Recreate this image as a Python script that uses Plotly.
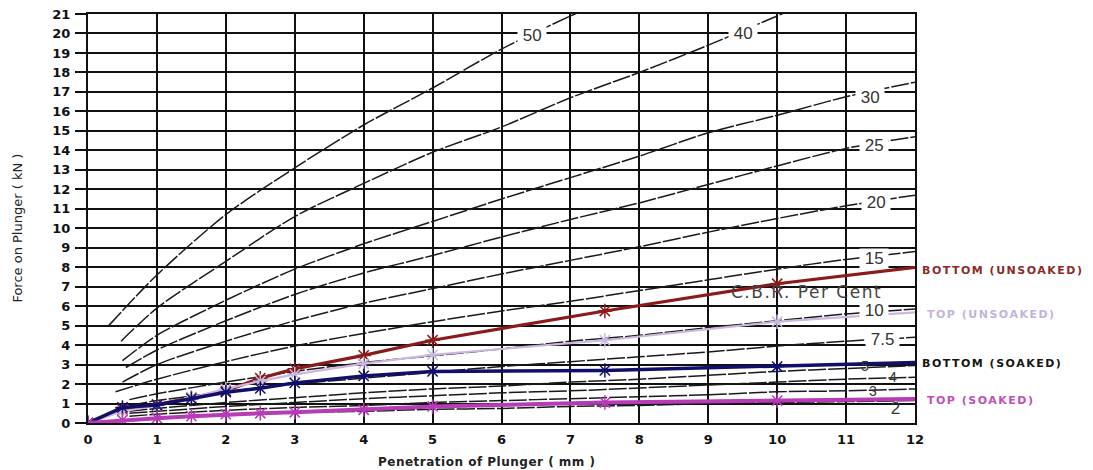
import plotly.graph_objects as go

# ---------------- data ----------------
# CBR reference curves (penetration mm -> force kN)
cbr_names = ["50", "40", "30", "25", "20", "15", "10", "7.5", "5", "4", "3", "2"]

cbr50_x = [0.3, 1, 2, 3, 4, 5, 6, 7, 7.2]
cbr50_y = [5.0, 7.6, 10.7, 13.1, 15.3, 17.2, 19.2, 20.9, 21.2]
cbr40_x = [0.48, 1, 2, 3, 4, 5, 6, 7, 8, 9, 10, 10.2]
cbr40_y = [4.2, 5.9, 8.3, 10.6, 12.3, 13.9, 15.2, 16.7, 18.0, 19.4, 20.9, 21.2]
cbr30_x = [0.5, 1, 2, 3, 4, 5, 6, 7, 8, 9, 10, 11, 12]
cbr30_y = [3.2, 4.5, 6.3, 7.9, 9.2, 10.35, 11.5, 12.6, 13.7, 14.9, 15.8, 16.75, 17.5]
cbr25_x = [0.55, 1, 2, 3, 4, 5, 6, 7, 8, 9, 10, 11, 12]
cbr25_y = [2.85, 3.75, 5.25, 6.6, 7.7, 8.6, 9.55, 10.45, 11.3, 12.25, 13.2, 14.1, 14.7]
cbr20_x = [0.5, 1, 2, 3, 4, 5, 6, 7, 8, 9, 10, 11, 12]
cbr20_y = [2.1, 3.0, 4.2, 5.25, 6.15, 6.9, 7.65, 8.35, 9.05, 9.8, 10.5, 11.15, 11.7]
cbr15_x = [0.4, 1, 2, 3, 4, 5, 6, 7, 8, 9, 10, 11, 12]
cbr15_y = [1.6, 2.25, 3.15, 3.95, 4.6, 5.2, 5.75, 6.25, 6.8, 7.35, 7.9, 8.4, 8.8]
cbr10_x = [0.6, 1, 2, 3, 4, 5, 6, 7, 8, 9, 10, 11, 12]
cbr10_y = [1.2, 1.5, 2.1, 2.65, 3.1, 3.45, 3.8, 4.2, 4.5, 4.9, 5.25, 5.6, 5.85]
cbr75_x = [0.6, 1, 2, 3, 4, 5, 6, 7, 8, 9, 10, 11, 12]
cbr75_y = [0.9, 1.15, 1.6, 2.0, 2.3, 2.6, 2.9, 3.15, 3.4, 3.65, 3.95, 4.2, 4.4]
cbr5_x = [0.6, 1, 2, 3, 4, 5, 6, 7, 8, 9, 10, 11, 12]
cbr5_y = [0.6, 0.75, 1.05, 1.3, 1.55, 1.75, 1.9, 2.1, 2.25, 2.45, 2.65, 2.8, 2.95]
cbr4_x = [0.6, 1, 2, 3, 4, 5, 6, 7, 8, 9, 10, 11, 12]
cbr4_y = [0.5, 0.6, 0.85, 1.05, 1.25, 1.4, 1.55, 1.65, 1.8, 1.95, 2.1, 2.25, 2.35]
cbr3_x = [0.6, 1, 2, 3, 4, 5, 6, 7, 8, 9, 10, 11, 12]
cbr3_y = [0.35, 0.45, 0.65, 0.8, 0.9, 1.05, 1.15, 1.25, 1.35, 1.45, 1.6, 1.65, 1.75]
cbr2_x = [1, 2, 3, 4, 5, 6, 7, 8, 9, 10, 11, 12]
cbr2_y = [0.3, 0.4, 0.55, 0.6, 0.7, 0.75, 0.85, 0.9, 1.0, 1.05, 1.1, 1.15]

# Test results
pen = [0, 0.5, 1.0, 1.5, 2.0, 2.5, 3.0, 4.0, 5.0, 7.5, 10.0, 12.5]
bottom_unsoaked = [0, 0.7, 0.95, 1.3, 1.65, 2.3, 2.78, 3.47, 4.25, 5.75, 7.15, 8.2]
top_unsoaked = [0, 0.6, 0.9, 1.3, 1.75, 2.15, 2.5, 3.05, 3.5, 4.25, 5.2, 5.8]
bottom_soaked = [0, 0.8, 0.92, 1.25, 1.58, 1.78, 2.06, 2.42, 2.65, 2.7, 2.9, 3.15]
top_soaked = [0, 0.15, 0.25, 0.35, 0.45, 0.5, 0.55, 0.68, 0.85, 1.05, 1.15, 1.25]

series_names = ["BOTTOM (UNSOAKED)", "TOP (UNSOAKED)", "BOTTOM (SOAKED)", "TOP (SOAKED)"]

x_ticks = list(range(0, 13))
y_ticks = list(range(0, 22))

# ---------------- figure ----------------
fig = go.Figure()

cbr_curves = [
    (cbr50_x, cbr50_y), (cbr40_x, cbr40_y), (cbr30_x, cbr30_y), (cbr25_x, cbr25_y),
    (cbr20_x, cbr20_y), (cbr15_x, cbr15_y), (cbr10_x, cbr10_y), (cbr75_x, cbr75_y),
    (cbr5_x, cbr5_y), (cbr4_x, cbr4_y), (cbr3_x, cbr3_y), (cbr2_x, cbr2_y),
]
for name, (cx, cy) in zip(cbr_names, cbr_curves):
    fig.add_trace(go.Scatter(
        x=cx, y=cy, mode="lines", name="CBR " + name,
        line=dict(color="#1a1a1a", width=1.5, shape="spline", smoothing=0.8, dash="18px,2px"),
        showlegend=False, hoverinfo="skip",
    ))

series_data = [bottom_unsoaked, top_unsoaked, bottom_soaked, top_soaked]
series_line = ["#8b1a1a", "#cbb8de", "#10106a", "#b73ab7"]
series_marker = ["#a02020", "#b8a0d8", "#3a3ad0", "#d060d0"]
series_width = [3.2, 2.2, 3.5, 4.0]
for name, vals, lc, mc, w in zip(series_names, series_data, series_line, series_marker, series_width):
    fig.add_trace(go.Scatter(
        x=pen, y=vals, mode="lines+markers", name=name,
        line=dict(color=lc, width=w),
        marker=dict(symbol="asterisk-open", size=12, line=dict(color=mc, width=1.5)),
        showlegend=False, cliponaxis=True,
    ))

# CBR labels on curves
label_pos = {
    "50": (6.44, 19.92), "40": (9.5, 20.0), "30": (11.34, 16.73), "25": (11.41, 14.27),
    "20": (11.43, 11.33), "15": (11.41, 8.46), "10": (11.41, 5.78), "7.5": (11.53, 4.29),
    "5": (11.27, 2.95), "4": (11.68, 2.35), "3": (11.39, 1.62), "2": (11.71, 0.75),
}
for name in cbr_names:
    lx, ly = label_pos[name]
    small = name in ("5", "4", "3")
    fig.add_annotation(
        x=lx, y=ly, xref="x", yref="y", text=" " + name + " ", showarrow=False,
        xanchor="center", yanchor="middle",
        font=dict(family="Liberation Sans, Arial, sans-serif", size=14 if small else 17, color="#333333"),
        bgcolor="white" if not small and name != "2" else "rgba(0,0,0,0)", borderpad=0,
    )

fig.add_annotation(
    x=10.42, y=6.73, xref="x", yref="y", xanchor="center", yanchor="middle",
    text='<span style="letter-spacing:1.5px">C.B.R. Per Cent</span>', showarrow=False,
    font=dict(family="DejaVu Sans, Verdana, sans-serif", size=17, color="#444444"),
)

# Right-side series labels
right_label_y = [7.85, 5.58, 3.08, 1.15]
right_label_x = [1.006, 1.012, 1.006, 1.012]
right_label_color = ["#8b2a2a", "#c4b4da", "#151515", "#c050b8"]
for name, lx, ly, col in zip(series_names, right_label_x, right_label_y, right_label_color):
    fig.add_annotation(
        x=lx, y=ly, xref="paper", yref="y",
        text='<b><span style="letter-spacing:1.5px">' + name + "</span></b>", showarrow=False,
        xanchor="left", yanchor="middle",
        font=dict(family="DejaVu Sans, Verdana, sans-serif", size=11, color=col),
    )

# Axis titles as annotations
fig.add_annotation(
    x=0.482, y=-0.095, xref="paper", yref="paper",
    text='<b><span style="letter-spacing:0.5px">Penetration of Plunger ( mm )</span></b>',
    showarrow=False, xanchor="center", yanchor="middle",
    font=dict(family="DejaVu Sans, Verdana, sans-serif", size=12, color="#222"),
)
fig.add_annotation(
    x=-0.085, y=0.477, xref="paper", yref="paper", text="Force on Plunger ( kN )",
    showarrow=False, textangle=-90, xanchor="center", yanchor="middle",
    font=dict(family="DejaVu Sans, Verdana, sans-serif", size=13, color="#222"),
)

tickfont = dict(family="DejaVu Sans, Verdana, sans-serif", size=13, color="#111", weight="bold")
fig.update_xaxes(
    range=[0, 12], tickvals=x_ticks, ticktext=[str(v) for v in x_ticks],
    showgrid=True, gridcolor="#111111", gridwidth=2, zeroline=False,
    showline=True, linecolor="#111111", linewidth=2, mirror=True,
    ticks="", tickfont=tickfont, ticklabelstandoff=3, automargin=False,
    ticklabeloverflow="allow",
)
fig.update_yaxes(
    range=[0, 21], tickvals=y_ticks, ticktext=[str(v) for v in y_ticks],
    showgrid=True, gridcolor="#111111", gridwidth=2, zeroline=False,
    showline=True, linecolor="#111111", linewidth=2, mirror=True,
    ticks="outside", ticklen=11, tickwidth=2, tickcolor="#111111",
    tickfont=tickfont, ticklabelstandoff=2, automargin=False,
    ticklabeloverflow="allow",
)

fig.update_layout(
    width=1093, height=470,
    margin=dict(l=80, r=186, t=6, b=55),
    plot_bgcolor="white", paper_bgcolor="white",
    font=dict(family="DejaVu Sans, Verdana, sans-serif"),
)

fig.write_html("out.html")
